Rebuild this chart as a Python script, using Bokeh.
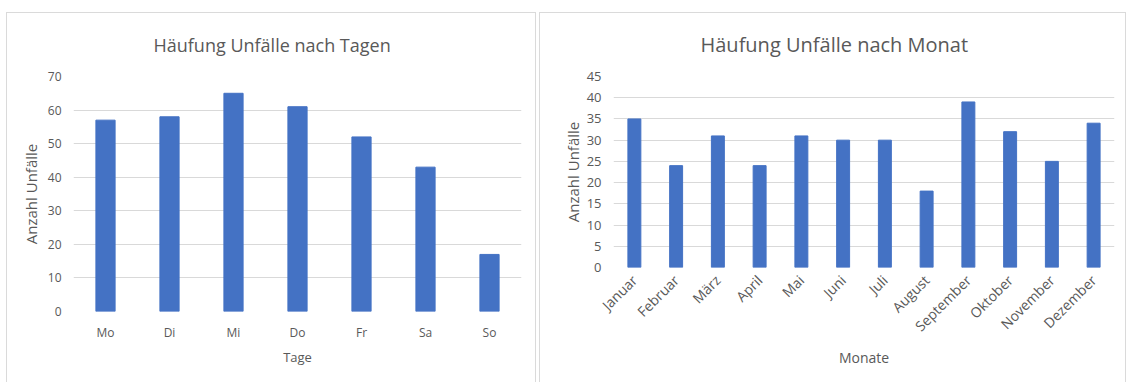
import math
from bokeh.plotting import figure
from bokeh.models import ColumnDataSource, Range1d, FixedTicker
from bokeh.embed import file_html
from bokeh.resources import INLINE

# ---- data ----
tage = ["Mo", "Di", "Mi", "Do", "Fr", "Sa", "So"]
unfaelle_tage = [57, 58, 65, 61, 52, 43, 17]
tage_ticks = [0, 10, 20, 30, 40, 50, 60, 70]

monate = ["Januar", "Februar", "März", "April", "Mai", "Juni", "Juli",
          "August", "September", "Oktober", "November", "Dezember"]
unfaelle_monat = [35, 24, 31, 24, 31, 30, 30, 18, 39, 32, 25, 34]
monat_ticks = [0, 5, 10, 15, 20, 25, 30, 35, 40, 45]

BAR = "#4472C4"
GRID = "#D9D9D9"
TXT = "#595959"
FONT = "Open Sans"


def panel_style(left, top):
    return {"position": "absolute", "left": f"{left}px", "top": f"{top}px",
            "border": "1px solid #DADADA", "border-bottom": "none"}


def style(p, title_size, title_offset, title_standoff, tick_size, label_size):
    p.title.text_font = FONT
    p.title.text_font_size = title_size
    p.title.text_font_style = "normal"
    p.title.text_color = TXT
    p.title.align = "left"
    p.title.vertical_align = "top"
    p.title.offset = title_offset
    p.title.standoff = title_standoff
    p.outline_line_color = None
    p.xgrid.grid_line_color = None
    p.ygrid.grid_line_color = GRID
    p.ygrid.grid_line_width = 1
    for ax in (p.xaxis, p.yaxis):
        ax.axis_line_color = None
        ax.major_tick_line_color = None
        ax.minor_tick_line_color = None
        ax.major_tick_out = 0
        ax.major_tick_in = 0
        ax.major_label_text_font = FONT
        ax.major_label_text_font_size = tick_size
        ax.major_label_text_color = TXT
        ax.axis_label_text_font = FONT
        ax.axis_label_text_font_style = "normal"
        ax.axis_label_text_color = TXT
    p.yaxis.axis_label_text_font_size = "15px"
    p.xaxis.axis_label_text_font_size = label_size
    p.yaxis.major_label_standoff = 12


# ---- left chart ----
src1 = ColumnDataSource(dict(tag=tage, n=unfaelle_tage))
p1 = figure(x_range=tage, y_range=Range1d(0, 70), width=530, height=370,
            title="Häufung Unfälle nach Tagen", output_backend="svg",
            toolbar_location=None, min_border_left=66, min_border_right=16,
            min_border_top=63, min_border_bottom=72)
p1.vbar(x="tag", top="n", width=0.30, source=src1, color=BAR)
style(p1, "18px", 80, 36, "12px", "13px")
p1.yaxis.ticker = FixedTicker(ticks=tage_ticks)
p1.xaxis.axis_label = "Tage"
p1.yaxis.axis_label = "Anzahl Unfälle"
p1.yaxis.axis_label_standoff = 4
p1.xaxis.major_label_standoff = 12
p1.xaxis.axis_label_standoff = 4
p1.styles = panel_style(6, 12)

# ---- right chart ----
src2 = ColumnDataSource(dict(monat=monate, n=unfaelle_monat))
p2 = figure(x_range=monate, y_range=Range1d(0, 45), width=587, height=370,
            title="Häufung Unfälle nach Monat", output_backend="svg",
            toolbar_location=None, min_border_left=73, min_border_right=13,
            min_border_top=63, min_border_bottom=116)
p2.vbar(x="monat", top="n", width=0.31, source=src2, color=BAR)
style(p2, "20px", 87, 33, "13px", "14px")
p2.yaxis.ticker = FixedTicker(ticks=monat_ticks)
p2.xaxis.axis_label = "Monate"
p2.yaxis.axis_label = "Anzahl Unfälle"
p2.yaxis.axis_label_standoff = 1
p2.xaxis.major_label_text_font_size = "14px"
p2.xaxis.major_label_orientation = math.pi / 4
p2.xaxis.major_label_standoff = 10
p2.xaxis.axis_label_standoff = 3
p2.styles = panel_style(539, 12)

open("out.html", "w").write(file_html([p1, p2], INLINE))
